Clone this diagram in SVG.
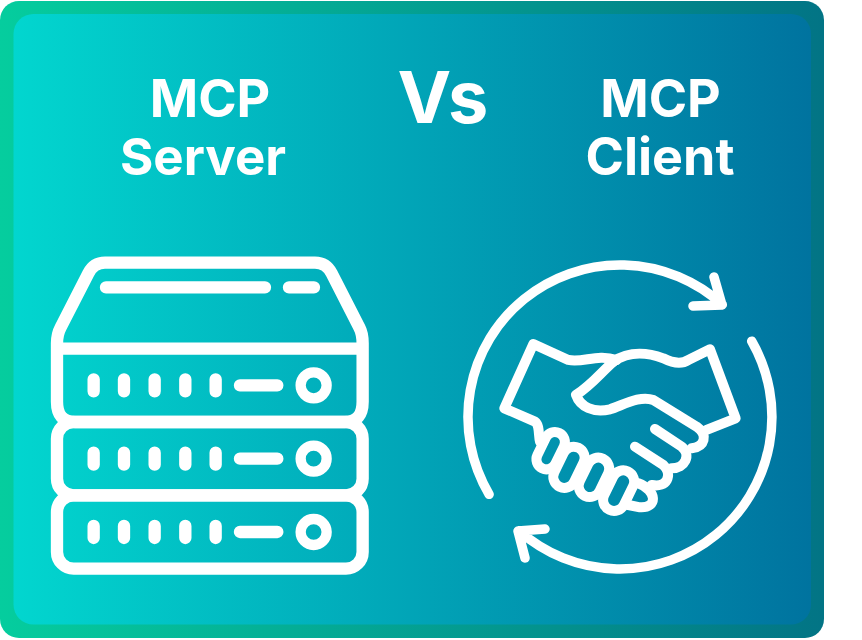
<svg xmlns="http://www.w3.org/2000/svg" width="862" height="640" viewBox="0 0 862 640">
<defs>
<linearGradient id="outer" x1="0" y1="0" x2="1" y2="0"><stop offset="0" stop-color="#05cd9e"/><stop offset="1" stop-color="#027485"/></linearGradient>
<linearGradient id="inner" x1="0" y1="0" x2="1" y2="0"><stop offset="0" stop-color="#02d6cf"/><stop offset="1" stop-color="#00739f"/></linearGradient>
<g id="row"><g class="s">
<path d="M161 388V424M252 388V424M344 388V424M436 388V424M527 388V424M600 406H712"/>
<circle cx="821" cy="406" r="39" stroke-width="31"/></g></g>
</defs>
<style>
.s{fill:none;stroke:#fff;stroke-width:37;stroke-linecap:round;stroke-linejoin:round}
.t{fill:#fff;font-family:Inter,"Liberation Sans",sans-serif;font-weight:700;text-anchor:middle}
.c{fill:none;stroke:#fff;stroke-width:9.500;stroke-linecap:round;stroke-linejoin:round}
.h{fill:none;stroke:#fff;stroke-width:30;stroke-linecap:round;stroke-linejoin:round}
</style>
<g id="background">
<rect x="0" y="1" width="824" height="637" rx="19" fill="url(#outer)"/>
<rect x="13.500" y="14" width="797.500" height="610.500" rx="20" fill="url(#inner)"/>
</g>
<g id="titles">
<text class="t" x="210" y="117" font-size="52">MCP</text>
<text class="t" x="203" y="175" font-size="51">Server</text>
<text class="t" x="443" y="123" font-size="72">Vs</text>
<text class="t" x="660.500" y="117" font-size="52">MCP</text>
<text class="t" x="660" y="175" font-size="52">Client</text>
</g>
<g id="server" transform="translate(40 250) scale(.3333)">
<path class="s" d="M51 280C51 260 55 245 62 232L145 70C155 50 170 38 195 38H825C850 38 865 50 875 70L958 232C965 245 968 260 968 280V455Q968 516 915 516H105Q51 516 51 455ZM51 296H968"/>
<rect class="s" x="51" y="516" width="917" height="220" rx="50"/>
<rect class="s" x="51" y="736" width="917" height="220" rx="50"/>
<path class="s" d="M198 112H675M747 112H822"/>
<use href="#row"/>
<use href="#row" y="220"/>
<use href="#row" y="440"/>
</g>
<g id="client">
<path class="c" d="M489.100 494.300A152 152 0 0 1 722.300 304.600M714 277L722 305L693 306"/>
<path class="c" d="M751.700 341.200A152 152 0 0 1 519.100 530.700M545 529L518 531L525 558"/>
<g transform="translate(450 250) scale(.3333)">
<path class="h" d="M500 330C440 310 400 340 355 330L250 282L163 475L255 515C270 525 265 560 270 575"/>
<path class="h" d="M490 335C540 300 600 310 640 325C680 345 700 340 715 330L780 298L857 505L770 540"/>
<path class="h" d="M490 335C450 370 430 400 378 435C390 470 430 490 480 478C520 465 570 435 610 450L740 530C775 555 765 590 725 595"/>
<path class="h" d="M615 537L695 590C725 615 705 655 665 655"/>
<path class="h" d="M555 590L640 645C670 675 650 715 605 705"/>
<path class="h" d="M565 700C620 720 625 775 570 772L535 765"/>
<rect class="h" x="-30" y="-59" width="60" height="118" rx="30" transform="translate(302 602) rotate(26)"/>
<rect class="h" x="-33" y="-65" width="66" height="130" rx="33" transform="translate(357 652) rotate(26)"/>
<rect class="h" x="-33" y="-62" width="66" height="124" rx="33" transform="translate(432 682) rotate(26)"/>
<rect class="h" x="-33" y="-64" width="66" height="128" rx="33" transform="translate(506 722) rotate(26)"/>
</g>
</g>
</svg>
